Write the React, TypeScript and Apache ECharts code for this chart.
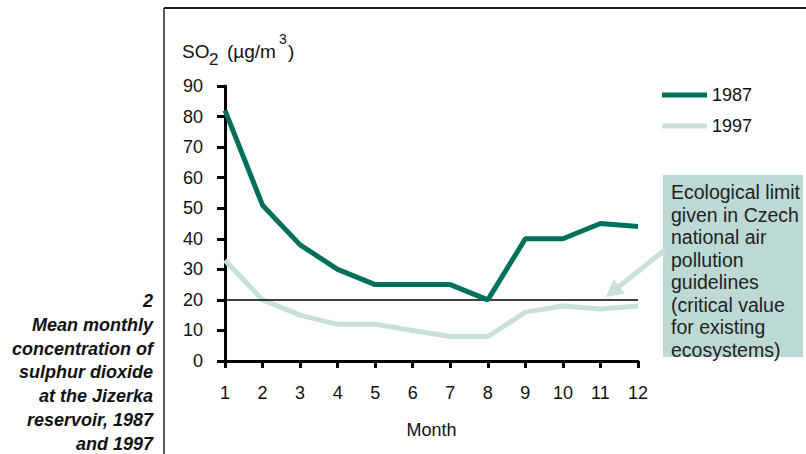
import React, { useEffect, useRef } from "react";
import * as echarts from "echarts";

const months = ["1", "2", "3", "4", "5", "6", "7", "8", "9", "10", "11", "12"];
const so2_1987 = [82, 51, 38, 30, 25, 25, 25, 20, 40, 40, 45, 44];
const so2_1997 = [33, 20, 15, 12, 12, 10, 8, 8, 16, 18, 17, 18];
const ecologicalLimit = 20;
const yTicks = { min: 0, max: 90, interval: 10 };

const captionLines = [
  "2",
  "Mean monthly",
  "concentration of",
  "sulphur dioxide",
  "at the Jizerka",
  "reservoir, 1987",
  "and 1997",
];
const noteText =
  "Ecological limit\ngiven in Czech\nnational air\npollution\nguidelines\n(critical value\nfor existing\necosystems)";

const DARK = "#00705c";
const LIGHT = "#c9dfdb";
const BOX = "#bdd9d4";
const FONT = "'Liberation Sans', Arial, Helvetica, sans-serif";

export default function App() {
  const ref = useRef<HTMLDivElement>(null);
  useEffect(() => {
    if (!ref.current) return;
    const chart = echarts.init(ref.current, undefined, { renderer: "svg" });
    const dir = { x: -59, y: 47 };
    const len = Math.hypot(dir.x, dir.y);
    const ux = dir.x / len, uy = dir.y / len;
    const tip = [606, 297];
    const base = [tip[0] - 17 * ux, tip[1] - 17 * uy];
    const px = -uy, py = ux;
    chart.setOption({
      animation: false,
      textStyle: { fontFamily: FONT },
      grid: { left: 225, right: 168, top: 86, bottom: 93, containLabel: false },
      legend: {
        orient: "vertical",
        left: 662,
        top: 86,
        padding: 0,
        itemGap: 13,
        itemWidth: 45,
        itemHeight: 5,
        icon: "rect",
        textStyle: { fontSize: 18, color: "#111", fontFamily: FONT },
        data: ["1987", "1997"],
      },
      xAxis: {
        type: "category",
        data: months,
        boundaryGap: false,
        name: "Month",
        nameLocation: "middle",
        nameGap: 60,
        nameTextStyle: { fontSize: 18, color: "#111", fontFamily: FONT },
        axisLine: { lineStyle: { color: "#000", width: 3 } },
        axisTick: { alignWithLabel: true, length: 7, lineStyle: { color: "#000", width: 3 } },
        axisLabel: { fontSize: 18, color: "#111", margin: 23, fontFamily: FONT },
        splitLine: { show: false },
      },
      yAxis: {
        type: "value",
        min: yTicks.min,
        max: yTicks.max,
        interval: yTicks.interval,
        axisLine: { show: true, lineStyle: { color: "#000", width: 3 } },
        axisTick: { show: true, length: 8, lineStyle: { color: "#000", width: 3 } },
        axisLabel: { fontSize: 18, color: "#111", margin: 22, fontFamily: FONT },
        splitLine: { show: false },
      },
      series: [
        {
          name: "1997",
          type: "line",
          data: so2_1997,
          symbol: "none",
          lineStyle: { color: LIGHT, width: 5 },
          itemStyle: { color: LIGHT },
          z: 2,
          markLine: {
            silent: true,
            symbol: "none",
            label: { show: false },
            lineStyle: { color: "#000", width: 1.5, type: "solid" },
            data: [{ yAxis: ecologicalLimit }],
            z: 3,
          },
        },
        {
          name: "1987",
          type: "line",
          data: so2_1987,
          symbol: "none",
          lineStyle: { color: DARK, width: 5 },
          itemStyle: { color: DARK },
          z: 4,
        },
      ],
      graphic: [
        { type: "line", shape: { x1: 164, y1: 8, x2: 806, y2: 8 }, style: { stroke: "#222", lineWidth: 2 } },
        { type: "line", shape: { x1: 164, y1: 8, x2: 164, y2: 454 }, style: { stroke: "#222", lineWidth: 1.5 } },
        { type: "text", x: 182, y: 51, style: { text: "SO", fontSize: 19, fill: "#111", fontFamily: FONT, verticalAlign: "middle" } },
        { type: "text", x: 209, y: 59, style: { text: "2", fontSize: 17, fill: "#111", fontFamily: FONT, verticalAlign: "middle" } },
        { type: "text", x: 227, y: 51, style: { text: "(\u00b5g/m", fontSize: 19, fill: "#111", fontFamily: FONT, verticalAlign: "middle" } },
        { type: "text", x: 279, y: 39, style: { text: "3", fontSize: 14, fill: "#111", fontFamily: FONT, verticalAlign: "middle" } },
        { type: "text", x: 288, y: 51, style: { text: ")", fontSize: 19, fill: "#111", fontFamily: FONT, verticalAlign: "middle" } },
        {
          type: "text",
          x: 153,
          y: 289,
          style: {
            text: captionLines.join("\n"),
            fontSize: 18,
            fontWeight: "bold",
            fontStyle: "italic",
            lineHeight: 23.8,
            align: "right",
            fill: "#111",
            fontFamily: FONT,
          },
        },
        { type: "rect", shape: { x: 663, y: 175, width: 140, height: 182 }, style: { fill: BOX } },
        {
          type: "text",
          x: 671,
          y: 181,
          style: { text: noteText, fontSize: 19.5, lineHeight: 22.5, fill: "#222", fontFamily: FONT },
        },
        {
          type: "line",
          shape: { x1: 666, y1: 249, x2: base[0], y2: base[1] },
          style: { stroke: LIGHT, lineWidth: 5 },
        },
        {
          type: "polygon",
          shape: {
            points: [
              tip,
              [base[0] + 9 * px, base[1] + 9 * py],
              [base[0] - 9 * px, base[1] - 9 * py],
            ],
          },
          style: { fill: LIGHT },
        },
      ],
    });
    return () => chart.dispose();
  }, []);
  return (
    <div
      ref={ref}
      style={{ position: "absolute", left: 0, top: 0, width: 806, height: 454, background: "#fff" }}
    />
  );
}
